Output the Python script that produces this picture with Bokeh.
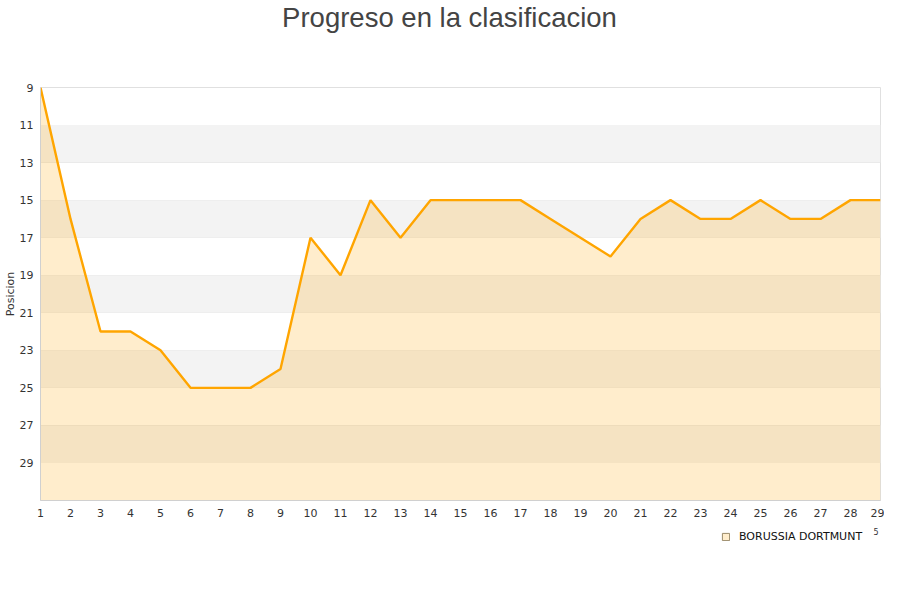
from bokeh.plotting import figure
from bokeh.layouts import column
from bokeh.models import (Range1d, FixedTicker, BoxAnnotation, Label, Legend, LegendItem,
                          ColumnDataSource)
from bokeh.embed import file_html
from bokeh.resources import INLINE

jornadas = list(range(1, 30))
posicion = [9, 16, 22, 22, 23, 25, 25, 25, 24, 17, 19, 15, 17, 15, 15, 15, 15,
            16, 17, 18, 16, 15, 16, 16, 15, 16, 16, 15, 15]
y_ticks = [9, 11, 13, 15, 17, 19, 21, 23, 25, 27, 29]
equipo = "BORUSSIA DORTMUNT"
titulo = "Progreso en la clasificacion"
y_titulo = "Posicion"
y_min, y_max = 9, 31


def strip(height):
    f = figure(width=884, height=height, output_backend="svg", toolbar_location=None,
               x_range=Range1d(0, 1), y_range=Range1d(0, 1), x_axis_type=None,
               y_axis_type=None, min_border=0)
    f.outline_line_color = None
    f.grid.grid_line_color = None
    return f


# title strip
tf = strip(40)
tf.add_layout(Label(x=409, y=23, x_units="screen", y_units="screen", text=titulo,
                    text_align="center", text_baseline="alphabetic",
                    text_font="Liberation Sans", text_font_size="27.5px",
                    text_color="#444444"))

p = figure(width=884, height=484, output_backend="svg", toolbar_location=None,
           x_range=Range1d(1, 29), y_range=Range1d(y_max, y_min),
           min_border_left=40, min_border_right=4, min_border_top=47,
           min_border_bottom=24)
p.outline_line_color = "#e0e0e0"
p.background_fill_color = "white"

# alternating bands
for i, t in enumerate(y_ticks):
    if i % 2 == 1:
        p.add_layout(BoxAnnotation(bottom=t, top=t + 2, fill_color="#f3f3f3",
                                   fill_alpha=1, line_alpha=0, level="underlay"))

src = ColumnDataSource(dict(x=jornadas, y=posicion, base=[y_max] * len(jornadas)))
p.varea(x="x", y1="y", y2="base", source=src, fill_color="#ffa500", fill_alpha=0.2)
p.line(x="x", y="y", source=src, line_color="#ffa500", line_width=2.4)

p.xaxis.ticker = FixedTicker(ticks=jornadas)
p.yaxis.ticker = FixedTicker(ticks=y_ticks)
p.xgrid.grid_line_color = None
p.ygrid.grid_line_color = "#e0e0e0"
p.ygrid.grid_line_width = 1
for ax in (p.xaxis, p.yaxis):
    ax.axis_line_color = "#d0d0d0"
    ax.major_tick_line_color = None
    ax.minor_tick_line_color = None
    ax.major_tick_out = 0
    ax.major_tick_in = 0
    ax.minor_tick_out = 0
    ax.major_label_text_font = "DejaVu Sans"
    ax.major_label_text_font_size = "11px"
    ax.major_label_text_color = "#333333"
p.xaxis.major_label_standoff = 8
p.yaxis.major_label_standoff = 7
p.yaxis.axis_label = y_titulo
p.yaxis.axis_label_text_font = "DejaVu Sans"
p.yaxis.axis_label_text_font_size = "11px"
p.yaxis.axis_label_text_font_style = "normal"
p.yaxis.axis_label_text_color = "#333333"
p.yaxis.axis_label_standoff = 0

# legend strip below the chart
lg = strip(60)
dummy = lg.quad(left=[2], right=[3], top=[2], bottom=[1], fill_color="#ffedcc",
                line_color="#9a8a6a", line_width=1)
legend = Legend(items=[LegendItem(label=equipo, renderers=[dummy])],
                location=(681, 41), glyph_width=9, glyph_height=9,
                label_text_font="DejaVu Sans", label_text_font_size="11px",
                label_text_color="#111111", padding=0, margin=0,
                border_line_alpha=0, background_fill_alpha=0, label_standoff=9,
                label_height=9)
lg.add_layout(legend, "center")
lg.add_layout(Label(x=833, y=50, x_units="screen", y_units="screen", text="5",
                    text_font="DejaVu Sans", text_font_size="8px", text_color="#333333"))

open("out.html", "w").write(file_html(column(tf, p, lg, spacing=0), INLINE))
